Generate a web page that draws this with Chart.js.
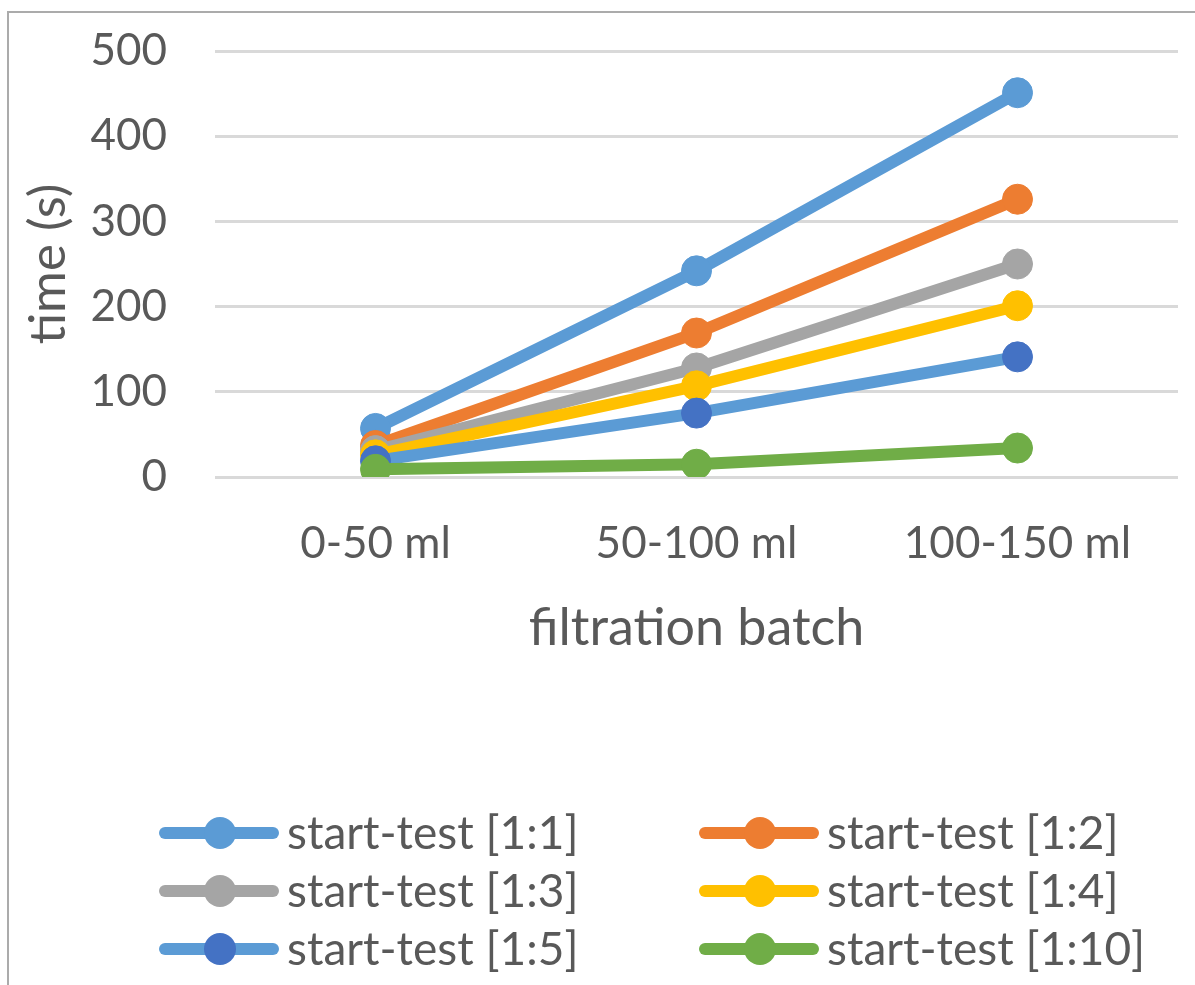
<!DOCTYPE html>
<html>
<head>
<meta charset="utf-8">
<script src="https://cdn.jsdelivr.net/npm/chart.js@4"></script>
<style>
  html, body { margin: 0; padding: 0; background: #fff; overflow: hidden; }
  #wrap { position: relative; width: 1195px; height: 985px; }
</style>
</head>
<body>
<div id="wrap"><canvas id="chart" width="1195" height="985"></canvas></div>
<script>
// ── Data ──
const CATEGORIES = ['0-50 ml', '50-100 ml', '100-150 ml'];
const SERIES_NAMES = [
  'start-test [1:1]', 'start-test [1:2]', 'start-test [1:3]',
  'start-test [1:4]', 'start-test [1:5]', 'start-test [1:10]'
];
const T_1_1  = [57, 242, 451];
const T_1_2  = [37, 169, 326];
const T_1_3  = [31, 128, 250];
const T_1_4  = [26, 107, 201];
const T_1_5  = [19, 75, 141];
const T_1_10 = [9, 15, 34];
const SERIES_VALUES = [T_1_1, T_1_2, T_1_3, T_1_4, T_1_5, T_1_10];
const Y_MIN = 0;
const Y_MAX = 500;
const Y_STEP = 100;

// ── Colour tokens (Office palette) ──
const LINE_COLORS   = ['#5B9BD5', '#ED7D31', '#A5A5A5', '#FFC000', '#5B9BD5', '#70AD47'];
const MARKER_COLORS = ['#5B9BD5', '#ED7D31', '#A5A5A5', '#FFC000', '#4472C4', '#70AD47'];
const C_TEXT = '#595959';
const C_GRID = '#D9D9D9';
const FONT = 'Lato, Calibri, "Noto Sans", sans-serif';

// ── Border round the chart frame ──
const framePlugin = {
  id: 'frame',
  beforeDraw(chart) {
    const c = chart.ctx;
    c.save();
    c.fillStyle = '#fff';
    c.fillRect(0, 0, chart.width, chart.height);
    c.strokeStyle = '#ABABAB';
    c.lineWidth = 2;
    c.strokeRect(8, 12, 1400, 1400);
    c.restore();
  }
};

// ── Two-column legend, line + marker swatch ──
const gridLegendPlugin = {
  id: 'gridLegend',
  afterDraw(chart) {
    const c = chart.ctx;
    const cols = [160, 700];
    const rows = [833, 891, 949];
    c.save();
    chart.data.datasets.forEach((ds, i) => {
      const x = cols[i % 2];
      const y = rows[Math.floor(i / 2)];
      c.strokeStyle = ds.borderColor;
      c.lineWidth = 12;
      c.lineCap = 'round';
      c.beginPath();
      c.moveTo(x + 5, y);
      c.lineTo(x + 113, y);
      c.stroke();
      c.fillStyle = ds.pointBackgroundColor;
      c.beginPath();
      c.arc(x + 60, y, 16, 0, Math.PI * 2);
      c.fill();
      c.fillStyle = C_TEXT;
      c.font = '46px ' + FONT;
      c.textBaseline = 'middle';
      c.textAlign = 'left';
      c.fillText(ds.label, x + 127, y + 1);
    });
    c.restore();
  }
};

const datasets = SERIES_VALUES.map((vals, i) => ({
  label: SERIES_NAMES[i],
  data: vals,
  borderColor: LINE_COLORS[i],
  backgroundColor: MARKER_COLORS[i],
  pointBackgroundColor: MARKER_COLORS[i],
  pointBorderColor: MARKER_COLORS[i],
  pointBorderWidth: 1,
  pointRadius: 15,
  borderWidth: 12,
  tension: 0,
  fill: false,
  order: SERIES_VALUES.length - 1 - i,
}));

new Chart(document.getElementById('chart'), {
  type: 'line',
  data: { labels: CATEGORIES, datasets },
  plugins: [framePlugin, gridLegendPlugin],
  options: {
    responsive: false,
    animation: false,
    layout: { padding: { left: 0, top: 51, right: 17, bottom: 326 } },
    plugins: {
      legend: { display: false },
      tooltip: { enabled: false },
    },
    scales: {
      x: {
        offset: true,
        grid: { display: false, drawTicks: false },
        border: { display: false },
        ticks: { color: C_TEXT, font: { size: 44, family: FONT }, padding: 40, maxRotation: 0 },
        title: { display: true, text: 'filtration batch', color: C_TEXT, font: { size: 52, family: FONT }, padding: 0 },
        afterFit: s => { s.height = 182; },
      },
      y: {
        min: Y_MIN,
        max: Y_MAX,
        grid: { color: C_GRID, lineWidth: 3, drawTicks: true, tickLength: 40, tickColor: 'rgba(0,0,0,0)' },
        border: { display: false },
        ticks: { stepSize: Y_STEP, color: C_TEXT, font: { size: 44, family: FONT }, padding: 8 },
        title: { display: true, text: 'time (s)', color: C_TEXT, font: { size: 51, family: FONT }, padding: { top: 18, bottom: 0 } },
        afterFit: s => { s.width = 215; },
      }
    }
  }
});
</script>
</body>
</html>
